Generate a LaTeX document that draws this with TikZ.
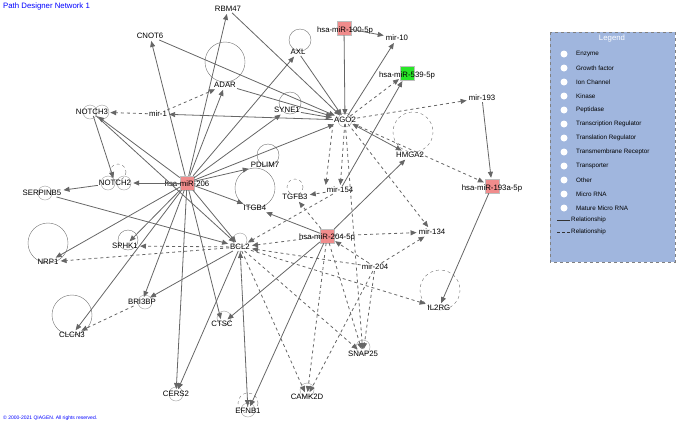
\documentclass[tikz,border=0pt]{standalone}
\usepackage{fontspec}
\setmainfont{Liberation Sans}
\usetikzlibrary{arrows.meta}
\definecolor{mirred}{RGB}{240,140,140}
\definecolor{mirgreen}{RGB}{40,230,40}
\definecolor{legendbg}{RGB}{160,182,222}
\begin{document}
\begin{tikzpicture}[x=1pt,y=-1pt,>={Triangle[length=6pt,width=5pt]},
    gene/.style={font=\fontsize{7.8}{8}\selectfont,inner sep=1pt},
    ring/.style={draw=black!55,fill=none},
    mature/.style={draw=black!25,minimum width=14pt,minimum height=14pt,inner sep=0pt},
    rel/.style={->,draw=black!60,thick,shorten >=1pt},
    drel/.style={rel,dashed}]
    \useasboundingbox (0,0) rectangle (676,424);

    %%% DRAW THE NODES
    \node[mature,fill=mirred] (s206) at (187,183) {};
    \node[mature,fill=mirred] (s100) at (344,28) {};
    \node[mature,fill=mirgreen] (s539) at (407,73) {};
    \node[mature,fill=mirred] (s193a) at (492,186) {};
    \node[mature,fill=mirred] (s204) at (327,236) {};
    \draw[ring] (225,62) circle (20);
    \draw[ring] (300,40) circle (11);
    \draw[ring] (290,103) circle (11);
    \draw[ring] (268,155) circle (11);
    \draw[ring] (255,188) circle (20);
    \draw[ring] (48,243) circle (20);
    \draw[ring] (72,315) circle (20);
    \draw[ring] (128,240) circle (10);
    \draw[ring,dashed] (413,132) circle (20);
    \draw[ring,dashed] (440,290) circle (20);
    \draw[ring,dashed] (118,172) circle (8);
    \draw[ring,dashed] (295,187) circle (8);
    \draw[ring,dashed] (248,403) circle (10);
    \foreach \cx/\cy in {90/112,102/112,108/183,124/183,345/120,240/240,145/302,224/318,176/394,307/390,363/347,248/410,45/193}
        \draw[ring,black!40] (\cx,\cy) circle (7);
    \node[gene] (RBM47) at (228,9) {RBM47};
    \node[gene] (CNOT6) at (150,36) {CNOT6};
    \node[gene] (AXL) at (298,52) {AXL};
    \node[gene] (m100) at (345,30) {hsa-miR-100-5p};
    \node[gene] (mir10) at (397,38) {mir-10};
    \node[gene] (m539) at (407,75) {hsa-miR-539-5p};
    \node[gene] (mir193) at (482,98) {mir-193};
    \node[gene] (ADAR) at (225,85) {ADAR};
    \node[gene] (NOTCH3) at (92,112) {NOTCH3};
    \node[gene] (mir1) at (158,114) {mir-1};
    \node[gene] (SYNE1) at (287,110) {SYNE1};
    \node[gene] (AGO2) at (345,120) {AGO2};
    \node[gene] (HMGA2) at (410,155) {HMGA2};
    \node[gene] (PDLIM7) at (265,165) {PDLIM7};
    \node[gene] (m206) at (187,184) {hsa-miR-206};
    \node[gene] (NOTCH2) at (115,183) {NOTCH2};
    \node[gene] (SERPINB5) at (42,193) {SERPINB5};
    \node[gene] (ITGB4) at (255,208) {ITGB4};
    \node[gene] (TGFB3) at (295,197) {TGFB3};
    \node[gene] (mir154) at (340,190) {mir-154};
    \node[gene] (m193a) at (492,188) {hsa-miR-193a-5p};
    \node[gene] (m204) at (327,237) {hsa-miR-204-5p};
    \node[gene] (mir134) at (432,232) {mir-134};
    \node[gene] (BCL2) at (240,247) {BCL2};
    \node[gene] (SPHK1) at (125,246) {SPHK1};
    \node[gene] (NRP1) at (48,262) {NRP1};
    \node[gene] (mir204) at (375,267) {mir-204};
    \node[gene] (BRI3BP) at (142,302) {BRI3BP};
    \node[gene] (CTSC) at (222,324) {CTSC};
    \node[gene] (CLCN3) at (72,335) {CLCN3};
    \node[gene] (IL2RG) at (439,308) {IL2RG};
    \node[gene] (SNAP25) at (363,354) {SNAP25};
    \node[gene] (CERS2) at (176,394) {CERS2};
    \node[gene] (CAMK2D) at (307,397) {CAMK2D};
    \node[gene] (EFNB1) at (248,411) {EFNB1};

    %%% DRAW THE PATHS
    \foreach \t in {RBM47,CNOT6,ADAR,SYNE1,AXL,NOTCH3,NOTCH2,PDLIM7,ITGB4,BCL2,SPHK1,NRP1,CLCN3,BRI3BP,CERS2,CTSC,AGO2}
        \draw[rel] (s206) -- (\t);
    \foreach \s in {CNOT6,RBM47,ADAR,SYNE1,AXL,s100}
        \draw[rel] (\s) -- (AGO2);
    \draw[rel] (AGO2) -- (mir1);
    \draw[rel] (AGO2) -- (mir10);
    \draw[rel] (s100) -- (mir10);
    \draw[rel,<->] (AGO2) -- (HMGA2);
    \draw[rel] (mir154) -- (s539);
    \draw[rel] (mir193) -- (s193a);
    \draw[rel] (s193a) -- (IL2RG);
    \draw[rel] (NOTCH2) -- (SERPINB5);
    \draw[rel] (NOTCH3) -- (NOTCH2);
    \draw[rel] (SERPINB5) -- (BCL2);
    \draw[rel] (NOTCH3) -- (BCL2);
    \foreach \t in {ITGB4,CTSC,EFNB1,HMGA2}
        \draw[rel] (s204) -- (\t);
    \draw[rel] (BCL2) -- (CERS2);
    \draw[rel] (BCL2) -- (BRI3BP);
    \draw[drel] (mir1) -- (NOTCH3);
    \draw[drel] (mir1) -- (ADAR);
    \foreach \t in {s539,mir193,mir154,s193a,mir134,SNAP25}
        \draw[drel] (AGO2) -- (\t);
    \draw[drel] (AGO2.south west) -- (mir154.north west);
    \draw[drel] (mir154) -- (TGFB3);
    \draw[drel] (mir154) -- (BCL2);
    \foreach \t in {BCL2,TGFB3,mir134,SNAP25,CAMK2D}
        \draw[drel] (s204) -- (\t);
    \foreach \t in {BCL2,CAMK2D,mir134,SNAP25}
        \draw[drel] (mir204) -- (\t);
    \draw[drel] (mir204) -- (s204);
    \foreach \t in {SPHK1,NRP1,IL2RG,EFNB1,CAMK2D,SNAP25}
        \draw[drel] (BCL2) -- (\t);
    \draw[drel] (EFNB1) -- (BCL2);
    \draw[drel] (BRI3BP) -- (CLCN3);

    %%% LEGEND
    \draw[dashed,black!50,fill=legendbg] (550,32) rectangle (675,262);
    \node[gene,white] (legtitle) at (612,38) {Legend};
    \foreach \y/\txt in {54/Enzyme,68/Growth factor,82/Ion Channel,96/Kinase,110/Peptidase,124/Transcription Regulator,138/Translation Regulator,152/Transmembrane Receptor,166/Transporter,180/Other,194/Micro RNA,208/Mature Micro RNA}
        \node[gene,anchor=west,font=\fontsize{6.3}{7}\selectfont] (leg\y) at (575,\y) {\txt};
    \foreach \y in {54,68,82,96,110,124,138,152,166,180,194,208}
        \fill[white] (564,\y) circle (3.5);
    \node[gene,anchor=west,font=\fontsize{6.3}{7}\selectfont] (legsolid) at (570,220) {Relationship};
    \node[gene,anchor=west,font=\fontsize{6.3}{7}\selectfont] (legdash) at (570,232) {Relationship};
    \draw[black!80] (557,220) -- (legsolid.west);
    \draw[black!80,dashed,dash pattern=on 3pt off 2pt] (557,232) -- (legdash.west);

    %%% ANNOTATE
    \node[gene,blue,anchor=west] (title) at (2,6) {Path Designer Network 1};
    \node[gene,blue,anchor=west,font=\fontsize{5}{6}\selectfont] (copy) at (2,418) {\textcopyright{} 2000-2021 QIAGEN. All rights reserved.};
\end{tikzpicture}
\end{document}
